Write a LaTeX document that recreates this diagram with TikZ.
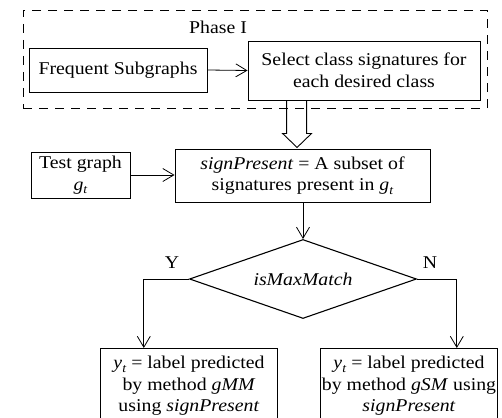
\documentclass[tikz,border=0pt]{standalone}
\usepackage{fontspec}
\setmainfont{Liberation Serif}[FakeStretch=1.1]
\usetikzlibrary{shapes.geometric,arrows.meta,calc}
\newcommand\subit[2]{\textit{#1}\raisebox{-0.45ex}{\fontsize{12.5}{12.5}\selectfont\textit{#2}}}
\tikzset{
  box/.style={draw, line width=0.9pt, inner sep=0pt, align=center},
  phasebox/.style={draw, line width=0.9pt, dash pattern=on 9pt off 7pt, inner sep=0pt},
  arr/.style={line width=0.8pt, -{Straight Barb[length=11pt,width=13pt,line width=0.8pt]}},
  dia/.style={draw, diamond, line width=1.1pt, inner sep=0pt, minimum width=227pt, minimum height=79pt},
  lab/.style={inner sep=0pt},
  openbox/.style={inner xsep=0pt, inner ysep=7pt, align=center, anchor=north}
}
\begin{document}
\begin{tikzpicture}[x=1pt,y=-1pt,font=\fontsize{18}{21.5}\selectfont]
\useasboundingbox (0,0) rectangle (502,417);
% Phase I region
\node[phasebox, minimum width=464pt, minimum height=98pt] (p1) at (255,59) {};
\node[lab] (ph) at (218,27) {Phase I};
\node[box, minimum width=178pt, minimum height=44pt] (fs) at (118,70) {Frequent Subgraphs};
\node[box, minimum width=232pt, minimum height=59pt] (sel) at (364,70.5) {Select class signatures for\\each desired class};
\draw[arr] (fs.east) -- (sel.west);
% middle
\node[box, minimum width=99pt, minimum height=46pt] (tg) at (80.5,175) {Test graph\\\subit{g}{t}};
\node[box, minimum width=255pt, minimum height=53pt] (sp) at (302.5,175.5) {\textit{signPresent} = A subset of\\signatures present in \subit{g}{t}};
\draw[arr] (tg.east) -- (tg.east -| sp.west);
% hollow block arrow
\draw[line width=0.9pt, line join=miter]
  ($(sel.south west)+(39,0)$) -- ($(sel.south west)+(39,33)$) -- ($(sel.south west)+(35,33)$)
  -- ($(sel.south west)+(49.5,47)$) -- ($(sel.south west)+(64,33)$) -- ($(sel.south west)+(59,33)$)
  -- ($(sel.south west)+(59,0)$);
% decision
\node[dia] (dm) at (303,279) {};
\node[lab] (dmt) at (303,279) {\textit{isMaxMatch}};
\draw[arr] (sp.south -| dm.north) -- (dm.north);
\node[lab] (ly) at (172,263) {Y};
\node[lab] (ln) at (430,263) {N};
% bottom boxes (cut by the lower edge)
\node[openbox, minimum width=176pt, minimum height=75pt] (lb) at (189,348)
  {\subit{y}{t} = label predicted\\by method \textit{gMM}\\using \textit{signPresent}};
\node[openbox, minimum width=176pt, minimum height=75pt] (rb) at (409,348)
  {\subit{y}{t} = label predicted\\by method \textit{gSM} using\\\textit{signPresent}};
\draw[line width=0.9pt] (lb.south west) |- (lb.north east) -- (lb.south east);
\draw[line width=0.9pt] (rb.south west) |- (rb.north east) -- (rb.south east);
\draw[arr] (dm.west) -| ($(lb.north west)+(43,0)$);
\draw[arr] (dm.east) -| ($(rb.north west)+(136,0)$);
\end{tikzpicture}
\end{document}
